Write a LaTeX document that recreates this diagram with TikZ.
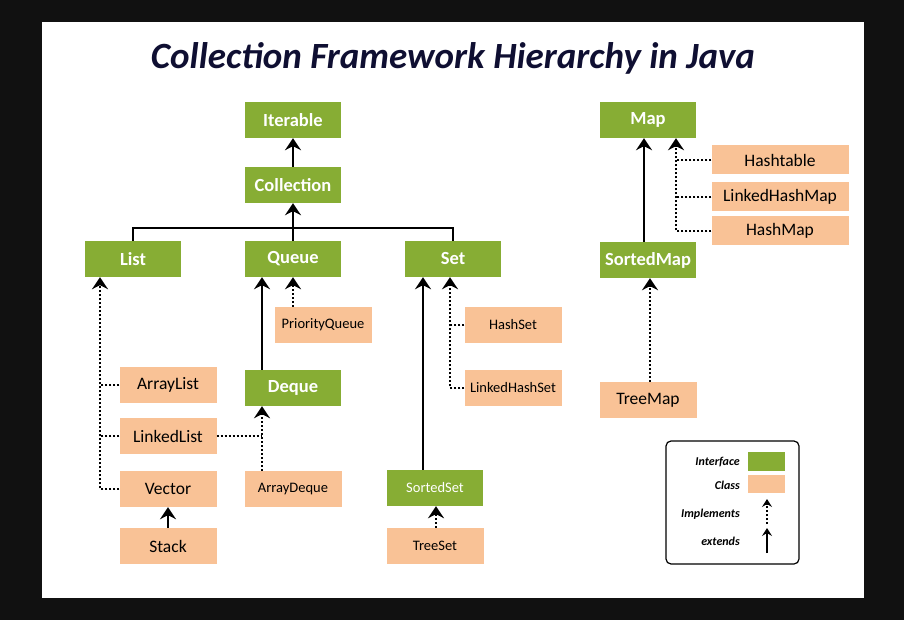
\documentclass[tikz,border=0pt]{standalone}
\usepackage{fontspec}
\setmainfont{Carlito}
\usepackage{tikz}
\usetikzlibrary{
    arrows.meta,
    positioning,
    calc
}
\definecolor{ifaceC}{RGB}{135,173,52}
\definecolor{classC}{RGB}{249,194,150}
\definecolor{titleC}{RGB}{15,15,50}
\definecolor{frameC}{RGB}{17,17,17}
\tikzset{
  ibox/.style   = {fill=ifaceC, text=white, minimum width=96pt,
                   minimum height=36pt, inner sep=0pt,
                   font=\fontsize{18.5}{20}\selectfont\bfseries},
  cbox/.style   = {fill=classC, text=black, minimum width=97pt,
                   minimum height=36pt, inner sep=0pt,
                   font=\fontsize{17.5}{20}\selectfont},
  small/.style  = {font=\fontsize{14.5}{16}\selectfont},
  ext/.style    = {-{Stealth[length=12pt, width=16pt, inset=4pt]},
                   line width=2.6pt},
  impl/.style   = {-{Stealth[length=12pt, width=16pt, inset=4pt]},
                   line width=2pt, dash pattern=on 2pt off 2pt},
  dots/.style   = {line width=2pt, dash pattern=on 2pt off 2pt},
  bus/.style    = {line width=2.6pt},
  legtxt/.style = {anchor=east, inner sep=0pt,
                   font=\fontsize{12}{14}\selectfont\bfseries\itshape}
}

\begin{document}
\begin{tikzpicture}[x=1pt, y=-1pt]

  %% -- Frame and title ---------------------------------------------
  \fill[frameC] (0,0) rectangle (904,620);
  \useasboundingbox (0,0) rectangle (904,620);
  \fill[white] (42,22) rectangle (864,598);
  \node[text=titleC, font=\fontsize{37}{40}\selectfont\bfseries\itshape]
    (title) at (453,58) {Collection Framework Hierarchy in Java};

  %% -- Interfaces ---------------------------------------------------
  \node[ibox] (iter)  at (293,120) {Iterable};
  \node[ibox] (coll)  at (293,185) {Collection};
  \node[ibox] (list)  at (133,259) {List};
  \node[ibox] (queue) at (293,259) {Queue};
  \node[ibox] (set)   at (453,259) {Set};
  \node[ibox] (deque) at (293,388) {Deque};
  \node[ibox, font=\fontsize{14.5}{16}\selectfont]
              (sset)  at (435,488) {SortedSet};
  \node[ibox] (map)   at (648,120) {Map};
  \node[ibox] (smap)  at (648,260) {SortedMap};

  %% -- Classes ------------------------------------------------------
  \node[cbox] (alist)  at (168,385) {ArrayList};
  \node[cbox] (llist)  at (168,436) {LinkedList};
  \node[cbox] (vector) at (168,489) {Vector};
  \node[cbox] (stack)  at (168,546) {Stack};
  \node[cbox, small] (pqueue) at (323,325) {PriorityQueue};
  \node[cbox, small] (adeque) at (293,489) {ArrayDeque};
  \node[cbox, small] (hset)   at (513,325) {HashSet};
  \node[cbox, small] (lhset)  at (513,388) {LinkedHashSet};
  \node[cbox, small] (tset)   at (435,546) {TreeSet};
  \node[cbox, minimum width=137pt, minimum height=29pt]
                     (htable) at (780,160) {Hashtable};
  \node[cbox, minimum width=137pt, minimum height=29pt]
                     (lhmap)  at (780,197) {LinkedHashMap};
  \node[cbox, minimum width=137pt, minimum height=29pt]
                     (hmap)   at (780,231) {HashMap};
  \node[cbox]        (tmap)   at (648,400) {TreeMap};

  %% -- Spine coordinates --------------------------------------------
  \coordinate (top)  at (293,228);
  \coordinate (lx)   at (100,0);
  \coordinate (qx)   at (262,0);
  \coordinate (sx)   at (423,0);
  \coordinate (hx)   at (450,0);
  \coordinate (tx)   at (436,0);
  \coordinate (mx)   at (644,0);
  \coordinate (kx)   at (676,0);
  \coordinate (rx)   at (650,0);

  %% -- Collection side ----------------------------------------------
  \draw[ext] (coll) -- (iter);
  \draw[bus] (list.north) |- (top) -| (set.north);
  \draw[ext] (queue.north) -- (coll.south);

  % list implementations
  \draw[impl] (vector.west) -| (lx |- list.south);
  \draw[dots] (alist.west) -- (alist.west -| lx);
  \draw[dots] (llist.west) -- (llist.west -| lx);
  \draw[ext]  (stack) -- (vector);

  % queue and deque
  \draw[ext]  (deque.north -| qx) -- (queue.south -| qx);
  \draw[impl] (pqueue.north -| queue.south) -- (queue.south);
  \draw[impl] (adeque.north -| qx) -- (deque.south -| qx);
  \draw[dots] (llist.east) -- (llist.east -| qx);

  % set
  \draw[ext]  (sset.north -| sx) -- (set.south -| sx);
  \draw[impl] (lhset.west) -| (hx |- set.south);
  \draw[dots] (hset.west) -- (hset.west -| hx);
  \draw[impl] (tset.north -| tx) -- (sset.south -| tx);

  %% -- Map side -----------------------------------------------------
  \draw[ext]  (smap.north -| mx) -- (map.south -| mx);
  \draw[impl] (hmap.west) -| (kx |- map.south);
  \draw[dots] (htable.west) -- (htable.west -| kx);
  \draw[dots] (lhmap.west) -- (lhmap.west -| kx);
  \draw[impl] (tmap.north -| rx) -- (smap.south -| rx);

  %% -- Legend -------------------------------------------------------
  \node[draw, line width=1.2pt, rounded corners=5pt, minimum width=133pt,
        minimum height=123pt] (legend) at (732.5,502.5) {};
  \node[fill=ifaceC, minimum width=37pt, minimum height=19pt, inner sep=0pt]
    (lgi) at (766.5,461.5) {};
  \node[fill=classC, minimum width=37pt, minimum height=18pt, inner sep=0pt]
    (lgc) at (766.5,484) {};
  \node[legtxt] (lti) at (740,462) {Interface};
  \node[legtxt] (ltc) at (740,485) {Class};
  \node[legtxt] (ltm) at (740,514) {Implements};
  \node[legtxt] (lte) at (740,541) {extends};
  \coordinate (ima) at (767,524);
  \coordinate (imb) at (767,499);
  \coordinate (exa) at (767,553);
  \coordinate (exb) at (767,528);
  \draw[-{Stealth[length=8pt, width=10pt, inset=3pt]}, line width=1.8pt,
        dash pattern=on 2pt off 2pt] (ima) -- (imb);
  \draw[-{Stealth[length=8pt, width=10pt, inset=3pt]}, line width=2pt]
        (exa) -- (exb);

\end{tikzpicture}
\end{document}
